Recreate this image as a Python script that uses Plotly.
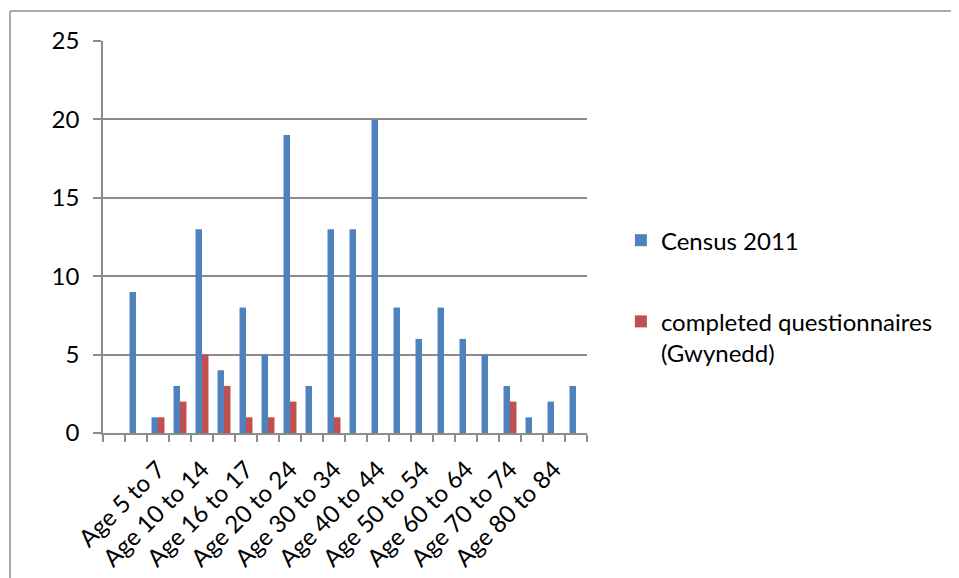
import plotly.graph_objects as go

categories = [" ", "Age 0 to 4", "Age 5 to 7", "Age 8 to 9", "Age 10 to 14", "Age 15",
              "Age 16 to 17", "Age 18 to 19", "Age 20 to 24", "Age 25 to 29",
              "Age 30 to 34", "Age 35 to 39", "Age 40 to 44", "Age 45 to 49",
              "Age 50 to 54", "Age 55 to 59", "Age 60 to 64", "Age 65 to 69",
              "Age 70 to 74", "Age 75 to 79", "Age 80 to 84", "Age 85 and over"]
census_2011 = [0, 9, 1, 3, 13, 4, 8, 5, 19, 3, 13, 13, 20, 8, 6, 8, 6, 5, 3, 1, 2, 3]
questionnaires = [0, 0, 1, 2, 5, 3, 1, 1, 2, 0, 1, 0, 0, 0, 0, 0, 0, 0, 2, 0, 0, 0]
y_ticks = [0, 5, 10, 15, 20, 25]

idx = list(range(len(categories)))
label_idx = idx[2:-1:2]
label_text = [categories[i] for i in label_idx]

FONT = "Lato, Carlito, Calibri, sans-serif"
GREY = "#8c8c8c"

fig = go.Figure()
fig.add_trace(go.Bar(x=idx, y=census_2011, name="Census 2011",
                     marker=dict(color="#4F81BD", line=dict(width=0)),
                     legendgroup="a"))
fig.add_trace(go.Bar(x=idx, y=questionnaires, name="completed questionnaires<br>(Gwynedd)",
                     marker=dict(color="#C0504D", line=dict(width=0)),
                     legendgroup="b"))

fig.update_layout(
    width=959, height=578,
    margin=dict(l=95, r=380, t=33, b=153),
    paper_bgcolor="white", plot_bgcolor="white",
    barmode="group", bargap=0.41, bargroupgap=0,
    font=dict(family=FONT, size=24, color="black"),
    legend=dict(x=1.07, y=0.348, xanchor="left", yanchor="middle",
                font=dict(size=24), tracegroupgap=47, valign="top",
                bgcolor="rgba(0,0,0,0)"),
    xaxis=dict(range=[-0.5, len(categories) - 0.5],
               tickmode="array", tickvals=label_idx, ticktext=label_text,
               tickangle=-45, ticks="", showgrid=False, zeroline=False,
               showline=True, linecolor=GREY, linewidth=1.5,
               minor=dict(tick0=-0.5, dtick=1, ticks="outside", ticklen=7,
                          tickcolor=GREY, tickwidth=1.5, showgrid=False),
               ticklabelstandoff=11),
    yaxis=dict(range=[0, 25], tickmode="array", tickvals=y_ticks,
               ticks="outside", ticklen=8, tickcolor=GREY, tickwidth=1.5,
               showgrid=True, gridcolor=GREY, gridwidth=1.5,
               zeroline=False, showline=True, linecolor=GREY, linewidth=1.5,
               ticklabelstandoff=9),
    showlegend=True,
)

# outer chart frame (left and top edges)
fig.add_shape(type="line", xref="paper", yref="paper",
              x0=-93 / 484, x1=-93 / 484, y0=-145 / 392, y1=422 / 392,
              line=dict(color=GREY, width=1.5))
fig.add_shape(type="line", xref="paper", yref="paper",
              x0=-93 / 484, x1=856 / 484, y0=422 / 392, y1=422 / 392,
              line=dict(color=GREY, width=1.5))

fig.write_html("out.html")
